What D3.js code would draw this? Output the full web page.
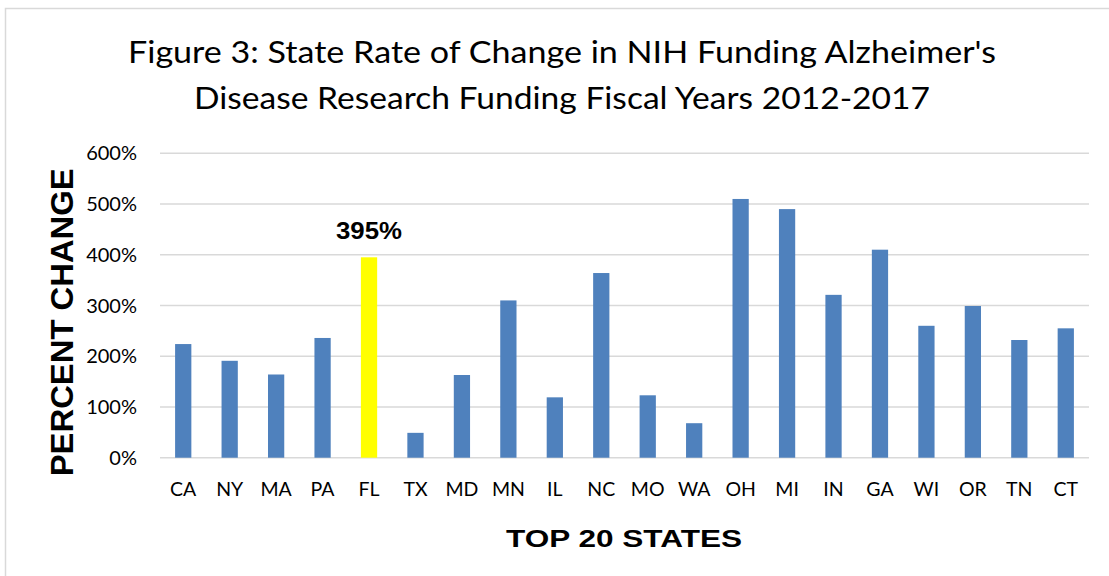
<!DOCTYPE html>
<html>
<head>
<meta charset="utf-8">
<script src="https://cdn.jsdelivr.net/npm/d3@7"></script>
<style>
  body { margin: 0; background: #fff; }
  text { fill: #000; }
</style>
</head>
<body>
<script>
// data
var states = ["CA","NY","MA","PA","FL","TX","MD","MN","IL","NC","MO","WA","OH","MI","IN","GA","WI","OR","TN","CT"];
var pctChange = [224,191,164,236,395,49,163,310,119,364,123,68,510,490,321,410,260,299,232,255];
var highlight = "FL";
var yTicks = [0,100,200,300,400,500,600];
var titleLines = ["Figure 3: State Rate of Change in NIH Funding Alzheimer's",
                  "Disease Research Funding Fiscal Years 2012-2017"];

var W = 1109, H = 576;
var calibri = "Lato, 'Open Sans', sans-serif";
var arial = "'Liberation Sans', Arial, sans-serif";

var svg = d3.select("body").append("svg")
    .attr("width", W)
    .attr("height", H);

svg.append("rect").attr("width", W).attr("height", H).attr("fill", "#fff");

// chart area border (right/bottom run off the picture)
svg.append("rect")
    .attr("x", 5.5).attr("y", 8.5)
    .attr("width", W + 20).attr("height", H + 20)
    .attr("fill", "none")
    .attr("stroke", "#d9d9d9")
    .attr("stroke-width", 1.5);

var x = d3.scaleBand()
    .domain(states)
    .range([160, 1089])
    .paddingInner(0.65)
    .paddingOuter(0.325);

var y = d3.scaleLinear()
    .domain([0, 600])
    .range([457.7, 153.3]);

// gridlines
svg.append("g").selectAll("line")
    .data(yTicks)
    .enter().append("line")
    .attr("x1", 160).attr("x2", 1089)
    .attr("y1", d => y(d)).attr("y2", d => y(d))
    .attr("stroke", "#d9d9d9")
    .attr("stroke-width", 1.5);

// y tick labels
svg.append("g").selectAll("text")
    .data(yTicks)
    .enter().append("text")
    .attr("x", 137)
    .attr("y", d => y(d) + 7)
    .attr("text-anchor", "end")
    .style("font-family", calibri)
    .style("font-size", "20px")
    .text(d => d + "%");

// bars
svg.append("g").selectAll("rect")
    .data(states)
    .enter().append("rect")
    .attr("x", d => x(d))
    .attr("width", x.bandwidth())
    .attr("y", (d, i) => y(pctChange[i]))
    .attr("height", (d, i) => y(0) - y(pctChange[i]))
    .attr("fill", d => d == highlight ? "#ffff00" : "#4f81bd");

// x labels
svg.append("g").selectAll("text")
    .data(states)
    .enter().append("text")
    .attr("x", d => x(d) + x.bandwidth() / 2)
    .attr("y", 496)
    .attr("text-anchor", "middle")
    .style("font-family", calibri)
    .style("font-size", "19.5px")
    .text(d => d);

// highlighted value label
var hi = states.indexOf(highlight);
svg.append("text")
    .attr("x", x(highlight) + x.bandwidth() / 2)
    .attr("y", 239.3)
    .attr("text-anchor", "middle")
    .attr("textLength", 66)
    .attr("lengthAdjust", "spacingAndGlyphs")
    .style("font-family", arial)
    .style("font-weight", "bold")
    .style("font-size", "23px")
    .text(pctChange[hi] + "%");

// title
var titleBase = [63.3, 109.3];
var titleLen = [868, 736];
svg.append("g").selectAll("text")
    .data(titleLines)
    .enter().append("text")
    .attr("x", 562)
    .attr("y", (d, i) => titleBase[i])
    .attr("text-anchor", "middle")
    .attr("textLength", (d, i) => titleLen[i])
    .attr("lengthAdjust", "spacingAndGlyphs")
    .style("font-family", calibri)
    .style("font-size", "30px")
    .text(d => d);

// axis titles
svg.append("text")
    .attr("transform", "translate(72.5,322.3) rotate(-90)")
    .attr("text-anchor", "middle")
    .attr("textLength", 308)
    .attr("lengthAdjust", "spacingAndGlyphs")
    .style("font-family", arial)
    .style("font-weight", "bold")
    .style("font-size", "31px")
    .text("PERCENT CHANGE");

svg.append("text")
    .attr("x", 624)
    .attr("y", 546.7)
    .attr("text-anchor", "middle")
    .attr("textLength", 236)
    .attr("lengthAdjust", "spacingAndGlyphs")
    .style("font-family", arial)
    .style("font-weight", "bold")
    .style("font-size", "24.5px")
    .text("TOP 20 STATES");
</script>
</body>
</html>
